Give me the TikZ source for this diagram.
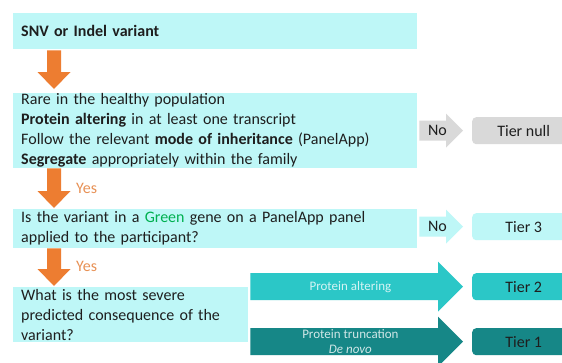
\documentclass[tikz,border=0pt]{standalone}
\usepackage{fontspec}
\setmainfont{Carlito}
\usetikzlibrary{calc}

\definecolor{boxcyan}{RGB}{190,247,247}
\definecolor{greyfill}{RGB}{217,217,217}
\definecolor{tealmid}{RGB}{43,199,199}
\definecolor{tealdark}{RGB}{22,135,135}
\definecolor{arroworange}{RGB}{237,125,49}
\definecolor{yesorange}{RGB}{232,145,85}
\definecolor{genegreen}{RGB}{0,176,80}
\definecolor{textgrey}{RGB}{30,30,30}

% block arrow pointing down: from, to
\newcommand{\downblock}[2]{%
  \fill[arroworange] let \p1=(#1), \p2=(#2) in
    (\x1-7pt,\y1) -- (\x1+7pt,\y1) -- (\x1+7pt,\y2+17pt) -- (\x1+16.5pt,\y2+17pt)
    -- (\x1,\y2) -- (\x1-16.5pt,\y2+17pt) -- (\x1-7pt,\y2+17pt) -- cycle;}

% block arrow pointing right: colour, from, to, shaft half, head half
\newcommand{\rightblock}[5]{%
  \fill[#1] let \p1=(#2), \p2=(#3) in
    (\x1,\y1+#4) -- (\x2-9pt-#5,\y1+#4) -- (\x2-9pt-#5,\y1+#5) -- (\x2-9pt,\y1)
    -- (\x2-9pt-#5,\y1-#5) -- (\x2-9pt-#5,\y1-#4) -- (\x1,\y1-#4) -- cycle;}

\begin{document}
\begin{tikzpicture}[x=1pt, y=-1pt, text=textgrey,
    font=\fontsize{16}{20}\selectfont,
    panel/.style={fill=boxcyan, anchor=north west, align=left,
        inner xsep=8pt, inner ysep=0pt},
    tierbox/.style={rounded corners=4pt, anchor=north west, inner sep=0pt,
        minimum width=103pt, minimum height=27pt},
    yeslabel/.style={anchor=west, text=yesorange, inner sep=0pt},
    arrowtext/.style={align=center, inner sep=0pt,
        font=\fontsize{13}{15.5}\selectfont}]

    % --- 1. Canvas ---
    \useasboundingbox[fill=white] (0,0) rectangle (562,362);

    % --- 2. Question boxes (left column) ---
    \node[panel, text width=388pt, minimum height=36pt] (snv) at (13,13)
        {\textbf{SNV or Indel variant}};
    \node[panel, text width=388pt, minimum height=75pt] (rare) at (13,93)
        {Rare in the healthy population\\
         \textbf{Protein altering} in at least one transcript\\
         Follow the relevant \textbf{mode of inheritance} (PanelApp)\\
         \textbf{Segregate} appropriately within the family};
    \node[panel, text width=388pt, minimum height=39pt] (green) at (13,209)
        {Is the variant in a \textcolor{genegreen}{Green} gene on a PanelApp panel\\
         applied to the participant?};
    \node[panel, text width=219pt, minimum height=55pt] (conseq) at (13,287)
        {What is the most severe\\
         predicted consequence of the\\
         variant?};

    % --- 3. Tiers (right column, running off the page) ---
    \node[tierbox, fill=greyfill] (tiernull) at (472,117) {Tier null};
    \node[tierbox, fill=boxcyan] (tier3) at (472,213) {Tier 3};
    \node[tierbox, fill=tealmid] (tier2) at (472,273) {Tier 2};
    \node[tierbox, fill=tealdark] (tier1) at (472,328) {Tier 1};

    % --- 4. Yes arrows (orange, downwards) ---
    \coordinate (d1) at ($(snv.south west)+(41,1)$);
    \coordinate (d2) at ($(rare.south west)+(41,0)$);
    \coordinate (d3) at ($(green.south west)+(41,0)$);
    \downblock{d1}{$(rare.north west)+(41,-4)$}
    \downblock{d2}{$(green.north west)+(41,-1)$}
    \downblock{d3}{$(conseq.north west)+(41,-1)$}
    \node[yeslabel] (yes1) at ($(d2)+(22,20)$) {Yes};
    \node[yeslabel] (yes2) at ($(d3)+(22,18)$) {Yes};

    % --- 5. No arrows and consequence arrows (rightwards) ---
    \coordinate (n1) at ($(rare.east)+(2,0)$);
    \coordinate (n2) at ($(green.east)+(2,0)$);
    \coordinate (c1) at ($(conseq.east)+(2,0)$);
    \rightblock{greyfill}{n1 |- tiernull.west}{tiernull.west}{10pt}{17pt}
    \rightblock{boxcyan}{n2 |- tier3.west}{tier3.west}{10pt}{17pt}
    \rightblock{tealmid}{c1 |- tier2.west}{tier2.west}{13.5pt}{25pt}
    \rightblock{tealdark}{c1 |- tier1.west}{tier1.west}{13.5pt}{25pt}

    \node (no1) at ($(n1 |- tiernull.west)+(18,0)$) {No};
    \node (no2) at ($(n2 |- tier3.west)+(18,0)$) {No};
    \node[arrowtext, text=white!80!tealmid] (alter) at ($(c1 |- tier2.west)+(100,0)$)
        {Protein altering};
    \node[arrowtext, text=white!80!tealdark] (trunc) at ($(c1 |- tier1.west)+(100,0)$)
        {Protein truncation\\ \textit{De novo}};

\end{tikzpicture}
\end{document}
